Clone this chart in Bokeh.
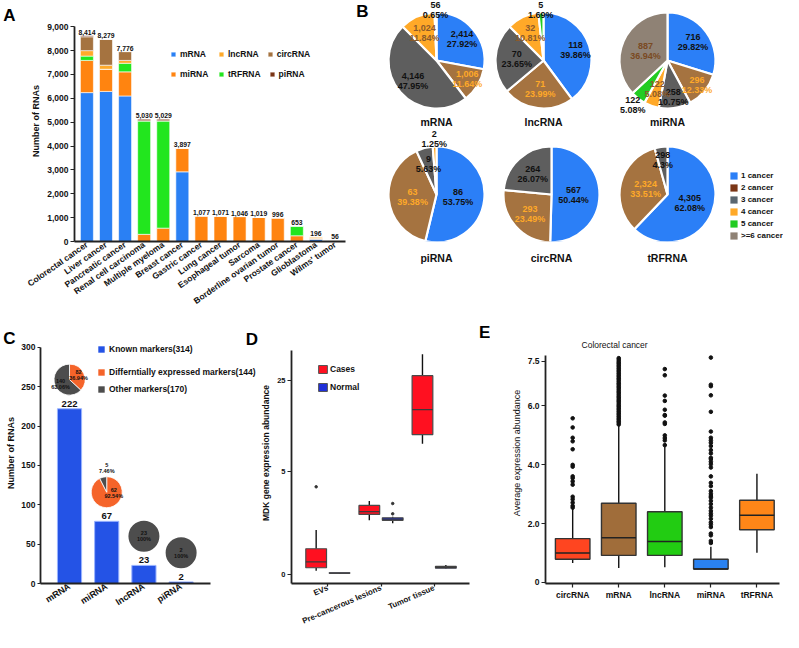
import math
import numpy as np
from bokeh.plotting import figure
from bokeh.layouts import row, column
from bokeh.models import (Range1d, FixedTicker, NumeralTickFormatter, CustomJSTickFormatter,
                          Legend, LegendItem, Label, ColumnDataSource, LinearAxis)
from bokeh.embed import file_html
from bokeh.resources import INLINE
from bokeh.core.properties import value

FONT = "Liberation Sans"
INK = "#111111"

# ---------------- Panel A data ----------------
a_cancers = ["Colorectal cancer", "Liver cancer", "Pancreatic cancer", "Renal cell carcinoma",
             "Multiple myeloma", "Breast cancer", "Gastric cancer", "Lung cancer",
             "Esophageal tumor", "Sarcoma", "Borderline ovarian tumor", "Prostate cancer",
             "Glioblastoma", "Wilms' tumor"]
a_totals = ["8,414", "8,279", "7,776", "5,030", "5,029", "3,897", "1,077", "1,071", "1,046",
            "1,019", "996", "653", "196", "56"]
a_mrna = [6240, 6290, 6100, 0, 0, 2920, 0, 0, 0, 0, 0, 0, 90, 0]
a_mirna = [1350, 930, 1010, 300, 560, 1000, 1077, 1071, 1046, 1019, 996, 240, 40, 56]
a_trfrna = [180, 0, 360, 4760, 4500, 0, 0, 0, 0, 0, 0, 413, 0, 0]
a_lncrna = [230, 170, 120, 0, 0, 0, 0, 0, 0, 0, 0, 0, 66, 0]
a_circrna = [580, 1080, 370, 0, 0, 0, 0, 0, 0, 0, 0, 0, 0, 0]
a_pirna = [40, 0, 0, 65, 65, 0, 0, 0, 0, 0, 0, 0, 0, 0]
a_yticks = [0, 1000, 2000, 3000, 4000, 5000, 6000, 7000, 8000, 9000]

# ---------------- Panel B data ----------------
b_levels = ["1 cancer", "2 cancer", "3 cancer", "4 cancer", "5 cancer", ">=6 cancer"]
b_titles = ["mRNA", "lncRNA", "miRNA", "piRNA", "circRNA", "tRFRNA"]
b_mrna = [2414, 1006, 4146, 1024, 56, 0]
b_lncrna = [118, 71, 70, 32, 5, 0]
b_mirna = [716, 296, 258, 122, 122, 887]
b_pirna = [86, 63, 9, 2, 0, 0]
b_circrna = [567, 293, 264, 0, 0, 0]
b_trfrna = [4305, 2324, 298, 0, 0, 0]
b_mrna_lab = ["2,414\n27.92%", "1,006\n11.64%", "4,146\n47.95%", "1,024\n11.84%", "56\n0.65%", ""]
b_lncrna_lab = ["118\n39.86%", "71\n23.99%", "70\n23.65%", "32\n10.81%", "5\n1.69%", ""]
b_mirna_lab = ["716\n29.82%", "296\n12.33%", "258\n10.75%", "122\n5.08%", "122\n5.08%", "887\n36.94%"]
b_pirna_lab = ["86\n53.75%", "63\n39.38%", "9\n5.63%", "2\n1.25%", "", ""]
b_circrna_lab = ["567\n50.44%", "293\n23.49%", "264\n26.07%", "", "", ""]
b_trfrna_lab = ["4,305\n62.08%", "2,324\n33.51%", "298\n4.3%", "", "", ""]

# ---------------- Panel C data ----------------
c_types = ["mRNA", "miRNA", "lncRNA", "piRNA"]
c_known = [222, 79, 23, 2]
c_known_lab = ["222", "67", "23", "2"]
c_de = [82, 62, 0, 0]
c_other = [140, 5, 23, 2]
c_de_lab = ["82\n36.94%", "62\n92.54%", "", ""]
c_other_lab = ["140\n63.06%", "5\n7.46%", "23\n100%", "2\n100%"]
c_legend = ["Known markers(314)", "Differntially expressed markers(144)", "Other markers(170)"]
c_yticks = [0, 50, 100, 150, 200, 250, 300]

# ---------------- Panel D data ----------------
d_groups = ["EVs", "Pre-cancerous lesions", "Tumor tissue"]
d_case_lo = [0.07, 1.63, 8.4]
d_case_q1 = [0.13, 1.91, 9.9]
d_case_med = [0.26, 2.05, 15.3]
d_case_q3 = [0.60, 2.39, 27.2]
d_case_hi = [1.23, 2.65, 38.8]
d_case_out = [[3.63], [], []]
d_norm_lo = [0.010, 1.50, 0.11]
d_norm_q1 = [0.018, 1.63, 0.12]
d_norm_med = [0.020, 1.69, 0.14]
d_norm_q3 = [0.026, 1.75, 0.16]
d_norm_hi = [0.030, 1.80, 0.19]
d_norm_out = [[], [1.94, 2.50], []]
d_yticks = [0, 5, 25]

# ---------------- Panel E data ----------------
e_types = ["circRNA", "mRNA", "lncRNA", "miRNA", "tRFRNA"]
e_lo = [0.66, 0.49, 0.52, 0.46, 1.01]
e_q1 = [0.79, 0.92, 0.92, 0.46, 1.79]
e_med = [1.00, 1.52, 1.39, 0.46, 2.28]
e_q3 = [1.49, 2.69, 2.40, 0.79, 2.79]
e_hi = [2.50, 5.34, 4.60, 1.21, 3.69]
e_out_circ = [5.57, 5.26, 4.91, 4.79, 4.52, 3.99, 3.93, 3.60, 3.54, 3.43, 3.32, 2.91, 2.82, 2.71, 2.60, 2.54]
e_out_mrna = [5.36, 5.42, 5.47, 5.53, 5.58, 5.64, 5.70, 5.75, 5.81, 5.87, 5.92, 5.98, 6.03, 6.09,
              6.15, 6.20, 6.26, 6.31, 6.37, 6.43, 6.48, 6.54, 6.60, 6.65, 6.71, 6.76, 6.82, 6.88,
              6.93, 6.99, 7.04, 7.10, 7.16, 7.21, 7.27, 7.33, 7.38, 7.44, 7.49, 7.55, 7.61]
e_out_lnc = [7.24, 7.03, 6.34, 6.16, 5.86, 5.68, 5.66, 5.43, 5.38, 4.99, 4.90, 4.82, 4.66]
e_out_mir = [7.63, 6.71, 6.66, 6.35, 5.79, 5.12, 4.91, 4.82, 4.74, 4.63, 4.49, 4.38, 4.23, 4.19,
             4.10, 4.01, 3.90, 3.60, 3.38, 3.27, 3.10, 3.01, 2.93, 2.88, 2.77, 2.66, 2.54, 2.43,
             2.34, 2.27, 2.16, 2.04, 1.97, 1.88, 1.66, 1.60, 1.41, 1.34]
e_out_trf = []
e_yticks = [0, 2, 4, 6, 7.5]
e_ylabels = ["0", "2.0", "4.0", "6.0", "7.5"]

# ---------------- colours ----------------
A_COLORS = {"mRNA": "#2A80F4", "miRNA": "#FF8410", "tRFRNA": "#22E61E",
            "lncRNA": "#FFAA2A", "circRNA": "#A57340", "piRNA": "#7A3516"}
PIE_COLORS = ["#2B7FF7", "#A57340", "#5E5E5E", "#FFA928", "#22CC22", "#8F8275"]
PIE_TXT = [INK, "#FFA928", INK, "#8B5A2B", INK, "#7A4A22"]
LEG_B_COLORS = ["#2B7FF7", "#7A3516", "#5A6670", "#FFA928", "#22CC22", "#8F8275"]
C_BLUE, C_ORANGE, C_GRAY = "#2453E6", "#F5642A", "#4D4D4D"
D_CASE, D_NORM = "#FF1020", "#1F2FD8"
E_COLORS = ["#FF4520", "#A06D3A", "#22CC12", "#2A82F2", "#FF8618"]


def new_fig(w, h, xr, yr, ml, mr, mt, mb, xloc="below", yloc="left"):
    p = figure(width=w, height=h, x_range=xr, y_range=yr, output_backend="svg",
               toolbar_location=None, min_border_left=ml, min_border_right=mr,
               min_border_top=mt, min_border_bottom=mb, title=None,
               x_axis_location=xloc, y_axis_location=yloc)
    p.outline_line_color = None
    p.grid.visible = False
    return p


def style_axis(ax, size="8.5px", tick_out=4):
    ax.major_label_text_font = FONT
    ax.major_label_text_font_size = size
    ax.major_label_text_font_style = "bold"
    ax.major_label_text_color = INK
    ax.axis_line_width = 1.8
    ax.axis_line_color = "#222222"
    ax.major_tick_line_color = "#222222"
    ax.major_tick_line_width = 1.2
    ax.major_tick_in = 0
    ax.major_tick_out = tick_out
    ax.minor_tick_line_color = None
    ax.major_label_standoff = 2
    ax.axis_label_text_font = FONT
    ax.axis_label_text_font_style = "bold"
    ax.axis_label_text_color = INK
    ax.axis_label_standoff = 3


def letter_label(p, x, y, t):
    p.add_layout(Label(x=x, y=y, text=t, text_font=FONT, text_font_size="17px",
                       text_font_style="bold", text_align="center", text_baseline="middle",
                       text_color="black"))


def letter_axis(p, y, t, standoff):
    ax = LinearAxis(ticker=FixedTicker(ticks=[y]), major_label_overrides={y: t},
                    axis_line_color=None, major_tick_line_color=None, minor_tick_line_color=None,
                    major_tick_in=0, major_tick_out=0, minor_tick_in=0, minor_tick_out=0,
                    major_label_standoff=standoff, major_label_text_font=FONT,
                    major_label_text_font_size="17px", major_label_text_font_style="bold",
                    major_label_text_color="black")
    p.add_layout(ax, "left")


def legend(p, items, loc, orientation="vertical", gw=8, gh=8, size="8.5px", spacing=4,
           label_width=20, label_height=9, standoff=4):
    leg = Legend(items=items, location=loc, orientation=orientation, glyph_width=gw,
                 glyph_height=gh, label_text_font=FONT, label_text_font_size=size,
                 label_text_font_style="bold", label_text_color=INK, spacing=spacing,
                 padding=0, margin=0, border_line_color=None, background_fill_alpha=0,
                 label_standoff=standoff, label_width=label_width, label_height=label_height)
    p.add_layout(leg)
    return leg


def swatch(p, color, line=None):
    nan = np.array([np.nan])
    return p.quad(left=nan, right=nan, top=nan, bottom=nan, fill_color=color, line_color=line)


# ======================= Panel A =======================
pA = new_fig(352, 322, Range1d(-0.65, 13.55), Range1d(0, 10101), 71, 7, 0, 81)
a_x = list(range(len(a_cancers)))
stack_keys = ["mRNA", "miRNA", "tRFRNA", "lncRNA", "circRNA", "piRNA"]
srcA = ColumnDataSource(dict(x=a_x, mRNA=a_mrna, miRNA=a_mirna, tRFRNA=a_trfrna,
                             lncRNA=a_lncrna, circRNA=a_circrna, piRNA=a_pirna))
rA = pA.vbar_stack(stack_keys, x="x", width=0.68, source=srcA,
                   fill_color=[A_COLORS[k] for k in stack_keys], line_color="white", line_width=0.6)
a_top = [sum(v) for v in zip(a_mrna, a_mirna, a_trfrna, a_lncrna, a_circrna, a_pirna)]
pA.text(x=a_x, y=a_top, text=a_totals, text_font=value(FONT), text_font_size="6.8px",
        text_font_style="bold", text_align="center", text_baseline="bottom", y_offset=-1,
        text_color=INK)
style_axis(pA.xaxis[0], size="8.5px", tick_out=0)
style_axis(pA.yaxis[0], size="8.5px", tick_out=4)
pA.xaxis.ticker = FixedTicker(ticks=a_x)
pA.xaxis.major_label_overrides = {i: n for i, n in enumerate(a_cancers)}
pA.xaxis.major_label_orientation = 0.61
pA.yaxis.ticker = FixedTicker(ticks=a_yticks)
pA.yaxis.bounds = (0, 9000)
pA.yaxis.formatter = NumeralTickFormatter(format="0,0")
pA.yaxis.axis_label = "Number of RNAs"
pA.yaxis.axis_label_text_font_size = "9px"
names = dict(zip(stack_keys, rA))
legend(pA, [LegendItem(label=k, renderers=[names[k]]) for k in ["mRNA", "lncRNA", "circRNA"]],
       (96, 182), orientation="horizontal", gw=6, gh=6, size="8.5px", spacing=8,
       label_width=30, label_height=9, standoff=4)
legend(pA, [LegendItem(label=k, renderers=[names[k]]) for k in ["miRNA", "tRFRNA", "piRNA"]],
       (96, 162), orientation="horizontal", gw=6, gh=6, size="8.5px", spacing=8,
       label_width=30, label_height=9, standoff=4)
letter_axis(pA, 9470, "A", 13)

# ======================= Panel B =======================
BW, BH = 431, 322
pB = new_fig(BW, BH, Range1d(0, BW), Range1d(81, 322), 0, 0, 0, 81, xloc="below", yloc=None)
b_vals = [b_mrna, b_lncrna, b_mirna, b_pirna, b_circrna, b_trfrna]
b_labs = [b_mrna_lab, b_lncrna_lab, b_mirna_lab, b_pirna_lab, b_circrna_lab, b_trfrna_lab]
b_centers = [(84, 262), (191, 262), (315, 262), (84, 128), (199, 128), (315, 128)]
b_ks = [[0.69, 0.75, 0.65, 0.62, 1.06, 0],
        [0.70, 0.60, 0.56, 0.64, 1.06, 0],
        [0.66, 0.80, 0.78, 0.64, 1.18, 0.50],
        [0.45, 0.50, 0.66, 1.15, 0, 0],
        [0.46, 0.60, 0.58, 0, 0, 0],
        [0.50, 0.47, 0.72, 0, 0, 0]]
R = 48
for idx, (vals, labs, (cx, cy), ks) in enumerate(zip(b_vals, b_labs, b_centers, b_ks)):
    total = float(sum(vals))
    starts, ends, cols = [], [], []
    lx, ly, lt, lc = [], [], [], []
    cum = 0.0
    for i, v in enumerate(vals):
        if v <= 0:
            continue
        a0 = cum / total * 2 * math.pi
        cum += v
        a1 = cum / total * 2 * math.pi
        starts.append(math.pi / 2 - a0)
        ends.append(math.pi / 2 - a1)
        cols.append(PIE_COLORS[i])
        mid = (a0 + a1) / 2
        k = ks[i]
        lx.append(cx + R * k * math.sin(mid))
        ly.append(cy + R * k * math.cos(mid))
        lt.append(labs[i])
        lc.append(PIE_TXT[i] if k < 1 else INK)
    pB.wedge(x=[cx] * len(starts), y=[cy] * len(starts), radius=R, start_angle=starts,
             end_angle=ends, direction="clock", fill_color=cols, line_color="white", line_width=2.2)
    pB.text(x=lx, y=ly, text=lt, text_color=lc, text_font=value(FONT), text_font_size="9px",
            text_font_style="bold", text_align="center", text_baseline="middle",
            text_line_height=1.0)
# titles of the upper pies
pB.text(x=[c[0] for c in b_centers[:3]], y=[c[1] - 61 for c in b_centers[:3]], text=b_titles[:3],
        text_color=INK, text_font=value(FONT), text_font_size="10.5px", text_font_style="bold",
        text_align="center", text_baseline="middle")
# titles of the lower pies through the x axis
bx = pB.xaxis[0]
bx.ticker = FixedTicker(ticks=[c[0] for c in b_centers[3:]])
bx.major_label_overrides = {c[0]: t for c, t in zip(b_centers[3:], b_titles[3:])}
bx.axis_line_color = None
bx.major_tick_line_color = None
bx.minor_tick_line_color = None
bx.major_tick_out = 0
bx.major_tick_in = 0
bx.major_label_standoff = 10
bx.major_label_text_font = FONT
bx.major_label_text_font_size = "10.5px"
bx.major_label_text_font_style = "bold"
bx.major_label_text_color = INK
legend(pB, [LegendItem(label=l, renderers=[swatch(pB, c)])
            for l, c in zip(b_levels, LEG_B_COLORS)],
       (377, 1), gw=9, gh=9, size="8px", spacing=3, label_width=20, label_height=9, standoff=3)
letter_label(pB, 10, 311, "B")

# ======================= Panel C =======================
pC = new_fig(258, 310, Range1d(-0.78, 5.08), Range1d(0, 331.6), 33, 0, 0, 48)
c_x = list(range(len(c_types)))
pC.vbar(x=c_x, top=c_known, width=0.65, fill_color=C_BLUE, line_color="#9AB4FF", line_width=1)
pC.text(x=c_x, y=c_known, text=c_known_lab, text_font=value(FONT), text_font_size="9.5px",
        text_font_style="bold", text_align="center", text_baseline="bottom", y_offset=-2,
        text_color=INK)
CR = 15.5
c_de_off = [(9, -5), (7, 1), (0, 0), (0, 0)]
c_ot_off = [(-9, 4), (0, -24), (0, 0), (0, 0)]
for i in c_x:
    cx, cy = i, c_known[i] + 37
    tot = float(c_de[i] + c_other[i])
    parts = [(v, col) for v, col in ((c_de[i], C_ORANGE), (c_other[i], C_GRAY)) if v > 0]
    if len(parts) == 1:
        pC.scatter(x=[cx], y=[cy], size=2 * CR, marker="circle", fill_color=parts[0][1],
                   line_color=None)
    else:
        starts, ends, cols = [], [], []
        cum = 0.0
        for v, col in parts:
            a0 = cum / tot * 2 * math.pi
            cum += v
            a1 = cum / tot * 2 * math.pi
            starts.append(math.pi / 2 - a0)
            ends.append(math.pi / 2 - a1)
            cols.append(col)
        pC.wedge(x=[cx] * len(starts), y=[cy] * len(starts), radius=CR, radius_units="screen",
                 start_angle=starts, end_angle=ends, direction="clock", fill_color=cols,
                 line_color="white", line_width=0.8)
    tx, ty, tt, ox, oy = [], [], [], [], []
    for lab, off in ((c_de_lab[i], c_de_off[i]), (c_other_lab[i], c_ot_off[i])):
        if lab:
            tx.append(cx); ty.append(cy); tt.append(lab); ox.append(off[0]); oy.append(off[1])
    pC.text(x=tx, y=ty, text=tt, x_offset=ox, y_offset=oy, text_font=value(FONT),
            text_font_size="5.5px", text_font_style="bold", text_align="center",
            text_baseline="middle", text_line_height=1.0, text_color=INK)
style_axis(pC.xaxis[0], size="9px", tick_out=0)
style_axis(pC.yaxis[0], size="8.5px", tick_out=3)
pC.xaxis.ticker = FixedTicker(ticks=c_x)
pC.xaxis.bounds = (-0.78, 3.8)
pC.xaxis.major_label_overrides = {i: n for i, n in enumerate(c_types)}
pC.xaxis.major_label_orientation = 0.57
pC.yaxis.ticker = FixedTicker(ticks=c_yticks)
pC.yaxis.bounds = (0, 300)
pC.yaxis.axis_label = "Number of RNAs"
pC.yaxis.axis_label_text_font_size = "9px"
pC.yaxis.axis_label_standoff = 2
legend(pC, [LegendItem(label=c_legend[0], renderers=[swatch(pC, C_BLUE)])],
       (57, 229), gw=8, gh=8, size="8.5px", spacing=7, label_height=10, standoff=4)
legend(pC, [LegendItem(label=c_legend[1], renderers=[swatch(pC, C_ORANGE)]),
            LegendItem(label=c_legend[2], renderers=[swatch(pC, C_GRAY)])],
       (57, 189), gw=8, gh=8, size="8.5px", spacing=7, label_height=10, standoff=4)
letter_axis(pC, 328, "C", -12)
letter_label(pC, 4.90, 310, "D")

# ======================= Panel D =======================
def tr(v):
    return math.log(v + 1.2)

pD = new_fig(232, 310, Range1d(-0.684, 3.06), Range1d(0.034, 4.193), 32, 0, 0, 48)
d_x = list(range(len(d_groups)))
for off, lo, q1, med, q3, hi, outs, fill in (
        (-0.22, d_case_lo, d_case_q1, d_case_med, d_case_q3, d_case_hi, d_case_out, D_CASE),
        (0.22, d_norm_lo, d_norm_q1, d_norm_med, d_norm_q3, d_norm_hi, d_norm_out, D_NORM)):
    xs = [x + off for x in d_x]
    pD.segment(x0=xs, y0=[tr(v) for v in q3], x1=xs, y1=[tr(v) for v in hi],
               line_color="#111111", line_width=1.4)
    pD.segment(x0=xs, y0=[tr(v) for v in lo], x1=xs, y1=[tr(v) for v in q1],
               line_color="#111111", line_width=1.4)
    pD.vbar(x=xs, width=0.39, bottom=[tr(v) for v in q1], top=[tr(v) for v in q3],
            fill_color=fill, line_color="#4A4A4A", line_width=1.2)
    pD.segment(x0=[x - 0.195 for x in xs], y0=[tr(v) for v in med],
               x1=[x + 0.195 for x in xs], y1=[tr(v) for v in med],
               line_color="#3A3A3A", line_width=1.3)
    ox, oy = [], []
    for x, lst in zip(xs, outs):
        for v in lst:
            ox.append(x); oy.append(tr(v))
    pD.scatter(x=ox, y=oy, size=2.5, color="#333333")
style_axis(pD.xaxis[0], size="8px", tick_out=3)
style_axis(pD.yaxis[0], size="7.5px", tick_out=4)
pD.xaxis.major_label_standoff = 1
pD.xaxis.ticker = FixedTicker(ticks=d_x)
pD.xaxis.bounds = (-0.684, 2.66)
pD.xaxis.major_label_overrides = {i: n for i, n in enumerate(d_groups)}
pD.xaxis.major_label_orientation = 0.41
pD.yaxis.ticker = FixedTicker(ticks=[tr(v) for v in d_yticks])
pD.yaxis.bounds = (0.034, 3.75)
pD.yaxis.formatter = CustomJSTickFormatter(code="return Math.round(Math.exp(tick) - 1.2).toString();")
pD.yaxis.axis_label = "MDK gene expression abundance"
pD.yaxis.axis_label_text_font_size = "8.5px"
legend(pD, [LegendItem(label="Cases", renderers=[swatch(pD, D_CASE, line="#555555")]),
            LegendItem(label="Normal", renderers=[swatch(pD, D_NORM, line="#555555")])],
       (26, 191), gw=11, gh=10, size="8.5px", spacing=8, label_height=10, standoff=2)
letter_label(pD, 2.95, 4.03, "E")

# ======================= Panel E =======================
pE = new_fig(293, 310, Range1d(-0.59, 4.49), Range1d(-0.034, 8.82), 55, 4, 0, 48)
e_x = list(range(len(e_types)))
pE.segment(x0=e_x, y0=e_q3, x1=e_x, y1=e_hi, line_color="#111111", line_width=1.4)
pE.segment(x0=e_x, y0=e_lo, x1=e_x, y1=e_q1, line_color="#111111", line_width=1.4)
pE.vbar(x=e_x, width=0.75, bottom=e_q1, top=e_q3, fill_color=E_COLORS, line_color="#333333",
        line_width=1.4)
pE.segment(x0=[x - 0.375 for x in e_x], y0=e_med, x1=[x + 0.375 for x in e_x], y1=e_med,
           line_color="#222222", line_width=1.4)
ox, oy = [], []
for x, lst in zip(e_x, [e_out_circ, e_out_mrna, e_out_lnc, e_out_mir, e_out_trf]):
    for v in lst:
        ox.append(x); oy.append(v)
pE.scatter(x=ox, y=oy, size=3.6, color="#111111")
style_axis(pE.xaxis[0], size="8.5px", tick_out=4)
style_axis(pE.yaxis[0], size="8.5px", tick_out=4)
pE.xaxis.ticker = FixedTicker(ticks=e_x)
pE.xaxis.major_label_overrides = {i: n for i, n in enumerate(e_types)}
pE.yaxis.ticker = FixedTicker(ticks=e_yticks)
pE.yaxis.bounds = (-0.034, 7.7)
pE.yaxis.major_label_overrides = {t: l for t, l in zip(e_yticks, e_ylabels)}
pE.yaxis.axis_label = "Average expression abundance"
pE.yaxis.axis_label_text_font_size = "9px"
pE.yaxis.axis_label_text_font_style = "normal"
pE.add_layout(Label(x=0.91, y=8.07, text="Colorectal cancer", text_font=FONT,
                    text_font_size="8.5px", text_align="center", text_baseline="middle",
                    text_color=INK))

layout = column(row(pA, pB), row(pC, pD, pE))
open("out.html", "w").write(file_html(layout, INLINE))
